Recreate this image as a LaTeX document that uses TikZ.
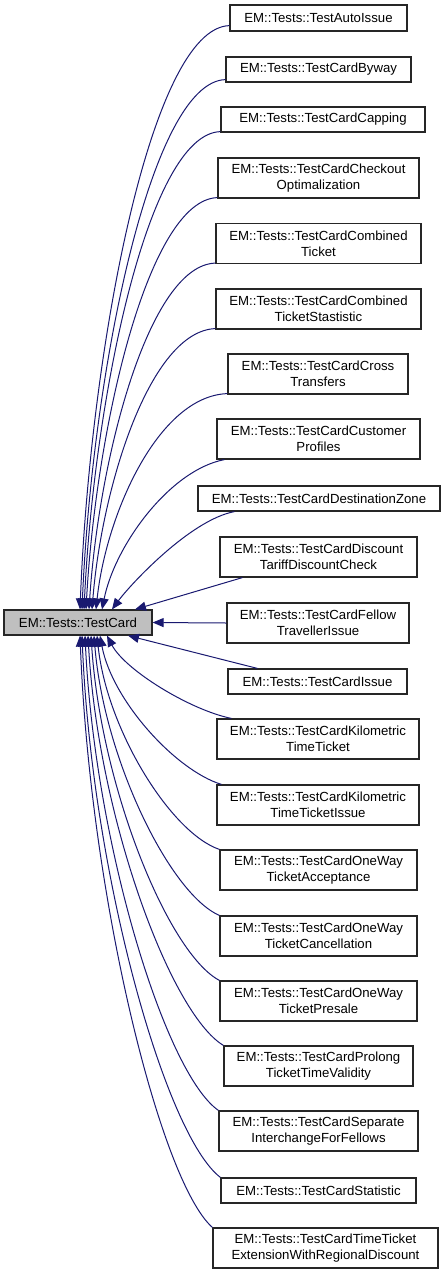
\documentclass[tikz,border=0pt]{standalone}
\usepackage{fontspec}
\setmainfont{Liberation Sans}
\usetikzlibrary{arrows.meta}
\definecolor{edgeblue}{HTML}{191970}
\definecolor{basefill}{HTML}{BFBFBF}
\tikzset{
  cls/.style={draw=black!85, line width=1.2pt, fill=white, align=center, inner sep=0pt,
    font=\fontsize{13.2}{16}\selectfont},
  one/.style={cls, minimum height=25pt},
  two/.style={cls, minimum height=40pt},
  basecls/.style={one, fill=basefill},
  edge/.style={draw=edgeblue, line width=1pt, -{Triangle[length=11pt,width=9pt]}}
}
\begin{document}
\begin{tikzpicture}[x=1pt,y=-1pt]
\useasboundingbox (0,0) rectangle (444,1275);
\node[basecls, minimum width=148pt] (base) at (78,622.5) {EM::Tests::TestCard};

\node[one, minimum width=177pt, minimum height=26pt] (n1) at (318.5,18) {EM::Tests::TestAutoIssue};
\node[one, minimum width=185pt] (n2) at (318.5,69.5) {EM::Tests::TestCardByway};
\node[one, minimum width=204pt] (n3) at (323,119.5) {EM::Tests::TestCardCapping};
\node[two, minimum width=201pt] (n4) at (318.5,178) {EM::Tests::TestCardCheckout\\Optimalization};
\node[two, minimum width=205pt] (n5) at (318.5,243.5) {EM::Tests::TestCardCombined\\Ticket};
\node[two, minimum width=205pt] (n6) at (318.5,309) {EM::Tests::TestCardCombined\\TicketStastistic};
\node[two, minimum width=180pt] (n7) at (318,374) {EM::Tests::TestCardCross\\Transfers};
\node[two, minimum width=203pt] (n8) at (318.5,439) {EM::Tests::TestCardCustomer\\Profiles};
\node[one, minimum width=242pt] (n9) at (319,498.5) {EM::Tests::TestCardDestinationZone};
\node[two, minimum width=197pt] (n10) at (318.5,557) {EM::Tests::TestCardDiscount\\TariffDiscountCheck};
\node[two, minimum width=182pt] (n11) at (318,623) {EM::Tests::TestCardFellow\\TravellerIssue};
\node[one, minimum width=179pt] (n12) at (317.5,681.5) {EM::Tests::TestCardIssue};
\node[two, minimum width=202pt] (n13) at (318,739) {EM::Tests::TestCardKilometric\\TimeTicket};
\node[two, minimum width=202pt] (n14) at (318,805) {EM::Tests::TestCardKilometric\\TimeTicketIssue};
\node[two, minimum width=197pt] (n15) at (318.5,870) {EM::Tests::TestCardOneWay\\TicketAcceptance};
\node[two, minimum width=197pt] (n16) at (318.5,936) {EM::Tests::TestCardOneWay\\TicketCancellation};
\node[two, minimum width=197pt] (n17) at (318.5,1001) {EM::Tests::TestCardOneWay\\TicketPresale};
\node[two, minimum width=189pt] (n18) at (318.5,1066) {EM::Tests::TestCardProlong\\TicketTimeValidity};
\node[two, minimum width=199pt] (n19) at (318.5,1131) {EM::Tests::TestCardSeparate\\InterchangeForFellows};
\node[one, minimum width=195pt] (n20) at (318.5,1190.5) {EM::Tests::TestCardStatistic};
\node[two, minimum width=225pt] (n21) at (325.5,1248) {EM::Tests::TestCardTimeTicket\\ExtensionWithRegionalDiscount};

% upper edges
\draw[edge] ([yshift=6pt]n1.south west) .. controls (150,28) and (90,353) .. ([xshift=2pt]base.north);
\draw[edge] ([yshift=3pt]n2.south west) .. controls (150,82) and (92,376) .. ([xshift=4pt]base.north);
\draw[edge] ([yshift=1pt]n3.south west) .. controls (148,134) and (94,399) .. ([xshift=6pt]base.north);
\draw[edge] ([yshift=1pt]n4.south west) .. controls (148,200) and (96,428) .. ([xshift=8pt]base.north);
\draw[edge] ([yshift=1pt]n5.south west) .. controls (149,265) and (99,457) .. ([xshift=11pt]base.north);
\draw[edge] ([yshift=1pt]n6.south west) .. controls (150,331) and (102,486) .. ([xshift=14pt]base.north);
\draw[edge] ([yshift=1pt]n7.south west) .. controls (158,396) and (106,515) .. ([xshift=18pt]base.north);
\draw[edge] ([xshift=8pt]n8.south west) .. controls (170,470) and (115,545) .. ([xshift=24pt]base.north);
\draw[edge] ([xshift=37pt]n9.south west) .. controls (190,520) and (130,585) .. ([xshift=34pt]base.north);
\draw[edge] ([xshift=23pt]n10.south west) -- ([xshift=57pt]base.north);
\draw[edge] (n11.west) -- (base.east);
% lower edges
\draw[edge] ([xshift=30pt]n12.north west) -- ([xshift=50pt]base.south);
\draw[edge] ([xshift=15pt]n13.north west) .. controls (190,710) and (125,670) .. ([xshift=29pt]base.south);
\draw[edge] ([xshift=5pt]n14.north west) .. controls (175,770) and (112,700) .. ([xshift=22pt]base.south);
\draw[edge] (n15.north west) .. controls (171,833) and (107,730) .. ([xshift=19pt]base.south);
\draw[edge] (n16.north west) .. controls (170,894) and (104,759) .. ([xshift=16pt]base.south);
\draw[edge] (n17.north west) .. controls (168,953) and (101,787) .. ([xshift=13pt]base.south);
\draw[edge] (n18.north west) .. controls (170,1013) and (98,816) .. ([xshift=10pt]base.south);
\draw[edge] (n19.north west) .. controls (165,1073) and (95,844) .. ([xshift=7pt]base.south);
\draw[edge] (n20.north west) .. controls (165,1135) and (92,874) .. ([xshift=4pt]base.south);
\draw[edge] (n21.north west) .. controls (160,1181) and (90,896) .. ([xshift=2pt]base.south);
\end{tikzpicture}
\end{document}
